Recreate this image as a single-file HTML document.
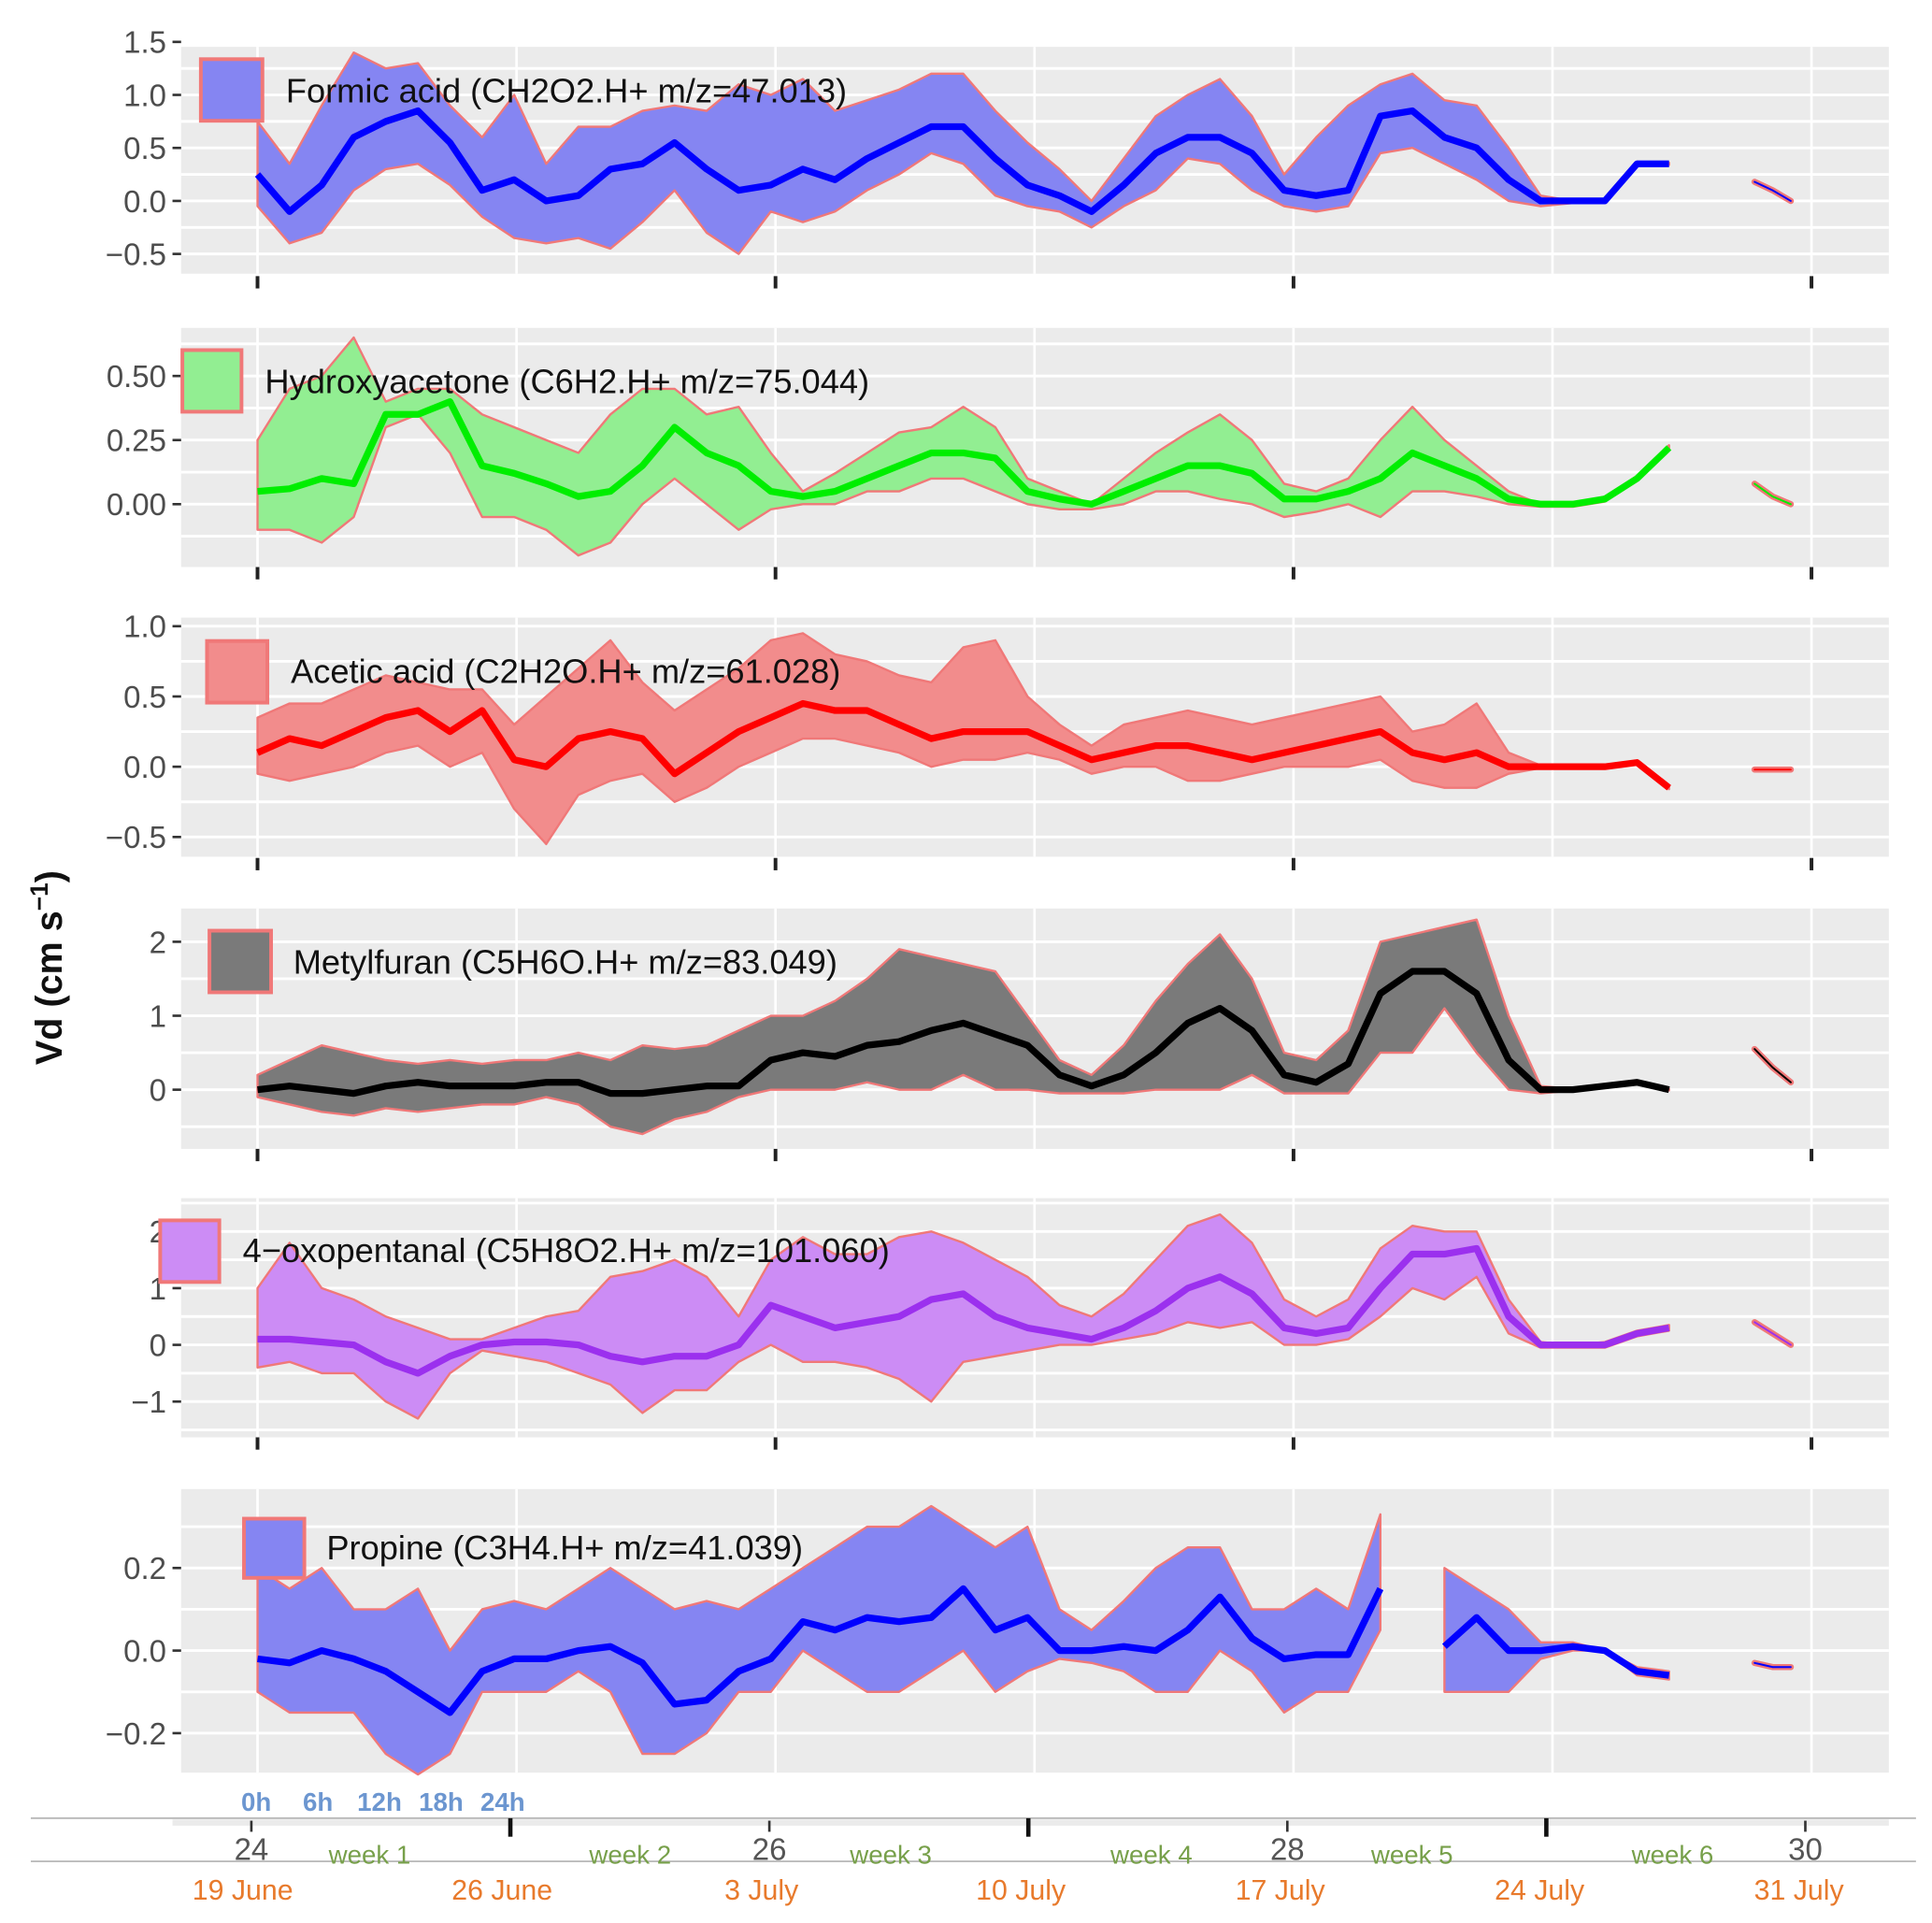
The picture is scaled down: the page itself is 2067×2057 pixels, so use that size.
<!DOCTYPE html>
<html><head><meta charset="utf-8">
<style>
html,body{margin:0;padding:0;background:#fff;}
svg{display:block;}
text{font-family:"Liberation Sans",sans-serif;}
</style></head>
<body>
<svg id="chart" width="2067" height="2057" viewBox="0 0 1568 1560" preserveAspectRatio="none" xmlns="http://www.w3.org/2000/svg">
<text transform="translate(50,785) rotate(-90)" text-anchor="middle" font-size="30" font-weight="bold" fill="#111">Vd (cm s<tspan baseline-shift="super" font-size="20">−1</tspan>)</text>
</svg>
<script>
// ---- data ----
const dayTicks = [24, 26, 28, 30];
const hourLabels = ["0h","6h","12h","18h","24h"];
const weekLabels = ["week 1","week 2","week 3","week 4","week 5","week 6"];
const dateLabels = ["19 June","26 June","3 July","10 July","17 July","24 July","31 July"];
const tMainEnd = 5.45;
const tailTimes = [5.78, 5.85, 5.92];

const formicMean = [0.25,-0.1,0.15,0.6,0.75,0.85,0.55,0.1,0.2,0.0,0.05,0.3,0.35,0.55,0.3,0.1,0.15,0.3,0.2,0.4,0.55,0.7,0.7,0.4,0.15,0.05,-0.1,0.15,0.45,0.6,0.6,0.45,0.1,0.05,0.1,0.8,0.85,0.6,0.5,0.2,0.0,0.0,0.0,0.35,0.35];
const formicUpper = [0.75,0.35,0.9,1.4,1.25,1.3,0.9,0.6,1.0,0.35,0.7,0.7,0.85,0.9,0.85,1.1,1.0,1.15,0.85,0.95,1.05,1.2,1.2,0.85,0.55,0.3,0.0,0.4,0.8,1.0,1.15,0.8,0.25,0.6,0.9,1.1,1.2,0.95,0.9,0.5,0.05,0.0,0.02,0.37,0.36];
const formicLower = [-0.05,-0.4,-0.3,0.1,0.3,0.35,0.15,-0.15,-0.35,-0.4,-0.35,-0.45,-0.2,0.1,-0.3,-0.5,-0.1,-0.2,-0.1,0.1,0.25,0.45,0.35,0.05,-0.05,-0.1,-0.25,-0.05,0.1,0.4,0.35,0.1,-0.05,-0.1,-0.05,0.45,0.5,0.35,0.2,0.0,-0.05,-0.02,-0.02,0.33,0.34];
const formicTail = [0.18,0.1,0.0];

const hydroMean = [0.05,0.06,0.1,0.08,0.35,0.35,0.4,0.15,0.12,0.08,0.03,0.05,0.15,0.3,0.2,0.15,0.05,0.03,0.05,0.1,0.15,0.2,0.2,0.18,0.05,0.02,0.0,0.05,0.1,0.15,0.15,0.12,0.02,0.02,0.05,0.1,0.2,0.15,0.1,0.02,0.0,0.0,0.02,0.1,0.22];
const hydroUpper = [0.25,0.45,0.5,0.65,0.4,0.45,0.45,0.35,0.3,0.25,0.2,0.35,0.45,0.45,0.35,0.38,0.2,0.05,0.12,0.2,0.28,0.3,0.38,0.3,0.1,0.05,0.0,0.1,0.2,0.28,0.35,0.25,0.08,0.05,0.1,0.25,0.38,0.25,0.15,0.05,0.0,0.0,0.03,0.11,0.23];
const hydroLower = [-0.1,-0.1,-0.15,-0.05,0.3,0.35,0.2,-0.05,-0.05,-0.1,-0.2,-0.15,0.0,0.1,0.0,-0.1,-0.02,0.0,0.0,0.05,0.05,0.1,0.1,0.05,0.0,-0.02,-0.02,0.0,0.05,0.05,0.02,0.0,-0.05,-0.03,0.0,-0.05,0.05,0.05,0.03,0.0,-0.01,-0.01,0.01,0.09,0.21];
const hydroTail = [0.08,0.03,0.0];

const aceticMean = [0.1,0.2,0.15,0.25,0.35,0.4,0.25,0.4,0.05,0.0,0.2,0.25,0.2,-0.05,0.1,0.25,0.35,0.45,0.4,0.4,0.3,0.2,0.25,0.25,0.25,0.15,0.05,0.1,0.15,0.15,0.1,0.05,0.1,0.15,0.2,0.25,0.1,0.05,0.1,0.0,0.0,0.0,0.0,0.03,-0.15];
const aceticUpper = [0.35,0.45,0.45,0.55,0.65,0.6,0.55,0.55,0.3,0.5,0.7,0.9,0.6,0.4,0.55,0.7,0.9,0.95,0.8,0.75,0.65,0.6,0.85,0.9,0.5,0.3,0.15,0.3,0.35,0.4,0.35,0.3,0.35,0.4,0.45,0.5,0.25,0.3,0.45,0.1,0.01,0.01,0.01,0.04,-0.14];
const aceticLower = [-0.05,-0.1,-0.05,0.0,0.1,0.15,0.0,0.1,-0.3,-0.55,-0.2,-0.1,-0.05,-0.25,-0.15,0.0,0.1,0.2,0.2,0.15,0.1,0.0,0.05,0.05,0.1,0.05,-0.05,0.0,0.0,-0.1,-0.1,-0.05,0.0,0.0,0.0,0.05,-0.1,-0.15,-0.15,-0.05,-0.01,-0.01,-0.01,0.02,-0.16];
const aceticTail = [-0.02,-0.02,-0.02];

const furanMean = [0.0,0.05,0.0,-0.05,0.05,0.1,0.05,0.05,0.05,0.1,0.1,-0.05,-0.05,0.0,0.05,0.05,0.4,0.5,0.45,0.6,0.65,0.8,0.9,0.75,0.6,0.2,0.05,0.2,0.5,0.9,1.1,0.8,0.2,0.1,0.35,1.3,1.6,1.6,1.3,0.4,0.0,0.0,0.05,0.1,0.0];
const furanUpper = [0.2,0.4,0.6,0.5,0.4,0.35,0.4,0.35,0.4,0.4,0.5,0.4,0.6,0.55,0.6,0.8,1.0,1.0,1.2,1.5,1.9,1.8,1.7,1.6,1.0,0.4,0.2,0.6,1.2,1.7,2.1,1.5,0.5,0.4,0.8,2.0,2.1,2.2,2.3,1.0,0.05,0.01,0.06,0.11,0.01];
const furanLower = [-0.1,-0.2,-0.3,-0.35,-0.25,-0.3,-0.25,-0.2,-0.2,-0.1,-0.2,-0.5,-0.6,-0.4,-0.3,-0.1,0.0,0.0,0.0,0.1,0.0,0.0,0.2,0.0,0.0,-0.05,-0.05,-0.05,0.0,0.0,0.0,0.2,-0.05,-0.05,-0.05,0.5,0.5,1.1,0.5,0.0,-0.05,-0.01,0.04,0.09,-0.01];
const furanTail = [0.55,0.3,0.1];

const oxoMean = [0.1,0.1,0.05,0.0,-0.3,-0.5,-0.2,0.0,0.05,0.05,0.0,-0.2,-0.3,-0.2,-0.2,0.0,0.7,0.5,0.3,0.4,0.5,0.8,0.9,0.5,0.3,0.2,0.1,0.3,0.6,1.0,1.2,0.9,0.3,0.2,0.3,1.0,1.6,1.6,1.7,0.5,0.0,0.0,0.0,0.2,0.3];
const oxoUpper = [1.0,1.8,1.0,0.8,0.5,0.3,0.1,0.1,0.3,0.5,0.6,1.2,1.3,1.5,1.2,0.5,1.5,1.9,1.6,1.6,1.9,2.0,1.8,1.5,1.2,0.7,0.5,0.9,1.5,2.1,2.3,1.8,0.8,0.5,0.8,1.7,2.1,2.0,2.0,0.8,0.05,0.0,0.05,0.25,0.35];
const oxoLower = [-0.4,-0.3,-0.5,-0.5,-1.0,-1.3,-0.5,-0.1,-0.2,-0.3,-0.5,-0.7,-1.2,-0.8,-0.8,-0.3,0.0,-0.3,-0.3,-0.4,-0.6,-1.0,-0.3,-0.2,-0.1,0.0,0.0,0.1,0.2,0.4,0.3,0.4,0.0,0.0,0.1,0.5,1.0,0.8,1.2,0.2,-0.05,-0.05,-0.05,0.15,0.25];
const oxoTail = [0.4,0.2,0.0];

const propMean = [-0.02,-0.03,0.0,-0.02,-0.05,-0.1,-0.15,-0.05,-0.02,-0.02,0.0,0.01,-0.03,-0.13,-0.12,-0.05,-0.02,0.07,0.05,0.08,0.07,0.08,0.15,0.05,0.08,0.0,0.0,0.01,0.0,0.05,0.13,0.03,-0.02,-0.01,-0.01,0.15,null,0.01,0.08,0.0,0.0,0.01,0.0,-0.05,-0.06];
const propUpper = [0.2,0.15,0.2,0.1,0.1,0.15,0.0,0.1,0.12,0.1,0.15,0.2,0.15,0.1,0.12,0.1,0.15,0.2,0.25,0.3,0.3,0.35,0.3,0.25,0.3,0.1,0.05,0.12,0.2,0.25,0.25,0.1,0.1,0.15,0.1,0.33,null,0.2,0.15,0.1,0.02,0.02,0.0,-0.04,-0.05];
const propLower = [-0.1,-0.15,-0.15,-0.15,-0.25,-0.3,-0.25,-0.1,-0.1,-0.1,-0.05,-0.1,-0.25,-0.25,-0.2,-0.1,-0.1,0.0,-0.05,-0.1,-0.1,-0.05,0.0,-0.1,-0.05,-0.02,-0.03,-0.05,-0.1,-0.1,0.0,-0.05,-0.15,-0.1,-0.1,0.05,null,-0.1,-0.1,-0.1,-0.02,0.0,0.0,-0.06,-0.07];
const propTail = [-0.03,-0.04,-0.04];

const svg = document.getElementById('chart');
const NS = 'http://www.w3.org/2000/svg';
function mk(tag, attrs, parent){ const e=document.createElementNS(NS,tag); for(const k in attrs) e.setAttribute(k,attrs[k]); (parent||svg).appendChild(e); return e; }

const X0 = 209, DAY = 210.2;
const xDay = d => X0 + d * DAY;
const xIdx = (i,n) => xDay(i * tMainEnd / (n-1));

const panels = [
 {key:'formic', name:'Formic acid (CH2O2.H+ m/z=47.013)', mean:formicMean, up:formicUpper, lo:formicLower, tail:formicTail,
  top:38, bot:222, ticks:[1.5,1.0,0.5,0.0,-0.5], tickLab:["1.5","1.0","0.5","0.0","\u22120.5"], v0:0, y0:163, v1:0.5, y1:120,
  fill:'#8585f2', line:'#0000ff', box:[163,48,50,50], tx:232, ty:83, tickY:228},
 {key:'hydroxyacetone', name:'Hydroxyacetone (C6H2.H+ m/z=75.044)', mean:hydroMean, up:hydroUpper, lo:hydroLower, tail:hydroTail,
  top:266, bot:460, ticks:[0.5,0.25,0.0], tickLab:["0.50","0.25","0.00"], v0:0, y0:409, v1:0.25, y1:357,
  fill:'#92ee92', line:'#00ee00', box:[148,284,48,50], tx:215, ty:319, tickY:464},
 {key:'acetic', name:'Acetic acid (C2H2O.H+ m/z=61.028)', mean:aceticMean, up:aceticUpper, lo:aceticLower, tail:aceticTail,
  top:501, bot:695, ticks:[1.0,0.5,0.0,-0.5], tickLab:["1.0","0.5","0.0","\u22120.5"], v0:0, y0:622, v1:0.5, y1:565,
  fill:'#f28c8c', line:'#ff0000', box:[168,520,49,50], tx:236, ty:554, tickY:700},
 {key:'metylfuran', name:'Metylfuran (C5H6O.H+ m/z=83.049)', mean:furanMean, up:furanUpper, lo:furanLower, tail:furanTail,
  top:737, bot:932, ticks:[2,1,0], tickLab:["2","1","0"], v0:0, y0:884, v1:1, y1:824,
  fill:'#7a7a7a', line:'#000000', box:[170,755,50,50], tx:238, ty:790, tickY:936},
 {key:'oxopentanal', name:'4\u2212oxopentanal (C5H8O2.H+ m/z=101.060)', mean:oxoMean, up:oxoUpper, lo:oxoLower, tail:oxoTail,
  top:972, bot:1166, ticks:[2,1,0,-1], tickLab:["2","1","0","\u22121"], v0:0, y0:1091, v1:1, y1:1045,
  fill:'#cc8cf5', line:'#9b30ee', box:[130,990,48,50], tx:197, ty:1024, tickY:1170},
 {key:'propine', name:'Propine (C3H4.H+ m/z=41.039)', mean:propMean, up:propUpper, lo:propLower, tail:propTail,
  top:1208, bot:1438, ticks:[0.2,0.0,-0.2], tickLab:["0.2","0.0","\u22120.2"], v0:0, y0:1339, v1:0.2, y1:1272,
  fill:'#8585f2', line:'#0000ff', box:[198,1232,49,48], tx:265, ty:1265, tickY:null}
];
const gridX = [0,1,2,3,4,5,6].map(k => xDay(k));

panels.forEach(p => {
  const g = mk('g', {});
  
  
  const y = v => p.y0 + (v - p.v0) * (p.y1 - p.y0) / (p.v1 - p.v0);
  const bg = mk('rect', {x:147, y:p.top, width:1386, height:p.bot-p.top, fill:'#ebebeb'}, g);
  
  
  const step = p.ticks[0] - p.ticks[1];
  for (let v = p.ticks[p.ticks.length-1] - step*2; v <= p.ticks[0] + step*2; v += step/2) {
    const yy = y(v);
    if (yy < p.top+2 || yy > p.bot-2) continue;
    mk('line', {x1:147, x2:1533, y1:yy, y2:yy, stroke:'#fff', 'stroke-width': 2.2}, g);
  }
  gridX.forEach(gx => mk('line', {x1:gx, x2:gx, y1:p.top, y2:p.bot, stroke:'#fff', 'stroke-width':2}, g));
  p.ticks.forEach((v,i) => {
    const yy = y(v);
    mk('line', {x1:140, x2:147, y1:yy, y2:yy, stroke:'#333', 'stroke-width':2}, g);
    const t = mk('text', {x:135, y:yy+9, 'text-anchor':'end', 'font-size':25, fill:'#4d4d4d'}, g);
    t.textContent = p.tickLab[i];
    
    
  });
  if (p.tickY) dayTicks.forEach((d,i) => mk('line', {x1:xDay(i*2), x2:xDay(i*2), y1:p.tickY-4, y2:p.tickY+6, stroke:'#222', 'stroke-width':3}, g));
  const n = p.mean.length;
  const segs = []; let cur = [];
  for (let i=0;i<n;i++){ if (p.mean[i]===null){ if(cur.length) segs.push(cur); cur=[]; } else cur.push(i); }
  if (cur.length) segs.push(cur);
  segs.forEach(s => {
    let d = s.map((i,k)=> (k?'L':'M') + xIdx(i,n).toFixed(1) + ',' + y(p.up[i]).toFixed(1)).join('');
    d += s.slice().reverse().map(i => 'L' + xIdx(i,n).toFixed(1) + ',' + y(p.lo[i]).toFixed(1)).join('') + 'Z';
    const r = mk('path', {d, fill:p.fill, stroke:'#f07878', 'stroke-width':1.8, 'stroke-linejoin':'round'}, g);
    
    
    const ld = s.map((i,k)=> (k?'L':'M') + xIdx(i,n).toFixed(1) + ',' + y(p.mean[i]).toFixed(1)).join('');
    const l = mk('path', {d:ld, fill:'none', stroke:p.line, 'stroke-width':5.5, 'stroke-linejoin':'round'}, g);
    
    
  });
  const td = p.tail.map((v,k)=> (k?'L':'M') + xDay(tailTimes[k]).toFixed(1) + ',' + y(v).toFixed(1)).join('');
  mk('path', {d:td, fill:'none', stroke:'#f07878', 'stroke-width':5, 'stroke-linecap':'round'}, g);
  const tl = mk('path', {d:td, fill:'none', stroke:p.line, 'stroke-width':1.5, 'stroke-linecap':'round'}, g);
  
  
  const b = p.box;
  const lb = mk('rect', {x:b[0], y:b[1], width:b[2], height:b[3], fill:p.fill, stroke:'#f07878', 'stroke-width':3}, g);
  
  
  const lt = mk('text', {x:p.tx, y:p.ty, 'font-size':27.5, fill:'#111'}, g);
  lt.textContent = p.name;
  
  
});

const ax = mk('g', {});


hourLabels.forEach((h,i) => {
  const t = mk('text', {x:208 + i*50, y:1469, 'text-anchor':'middle', 'font-size':21, 'font-weight':'bold', fill:'#6c96d0'}, ax);
  t.textContent = h;
  
  
});
mk('line', {x1:25, x2:1555, y1:1475, y2:1475, stroke:'#bbb', 'stroke-width':1.5}, ax);
mk('rect', {x:140, y:1476, width:1393, height:5, fill:'#ebebeb'}, ax);
mk('line', {x1:25, x2:1555, y1:1510, y2:1510, stroke:'#bbb', 'stroke-width':1.5}, ax);
dayTicks.forEach((d,i) => {
  const x = xDay(i*2) - 5;
  mk('line', {x1:x, x2:x, y1:1477, y2:1486, stroke:'#333', 'stroke-width':2}, ax);
  const t = mk('text', {x:x, y:1509, 'text-anchor':'middle', 'font-size':25, fill:'#555'}, ax);
  t.textContent = d;
  
  
});
[1,3,5].forEach(k => {
  const x = xDay(k) - 5;
  mk('line', {x1:x, x2:x, y1:1475, y2:1490, stroke:'#111', 'stroke-width':3.5}, ax);
});
weekLabels.forEach((w,i) => {
  const t = mk('text', {x:300 + i*211.5, y:1512, 'text-anchor':'middle', 'font-size':21, fill:'#77a04a'}, ax);
  t.textContent = w;
  
  
});
dateLabels.forEach((w,i) => {
  const t = mk('text', {x:197 + i*210.5, y:1541, 'text-anchor':'middle', 'font-size':23, fill:'#e87a2c'}, ax);
  t.textContent = w;
  
  
});
</script>
</body></html>
